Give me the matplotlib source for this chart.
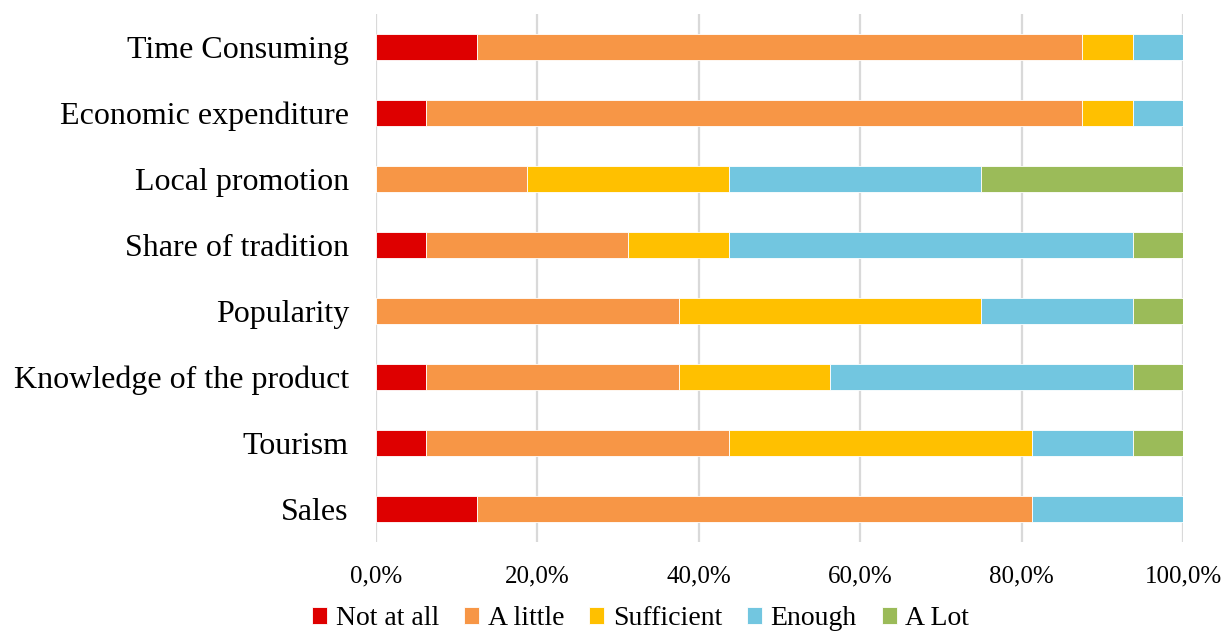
import numpy as np
import matplotlib.pyplot as plt
from matplotlib.ticker import FuncFormatter

plt.rcParams['font.family'] = ['Liberation Serif', 'DejaVu Serif']

categories = ["Time Consuming", "Economic expenditure", "Local promotion",
              "Share of tradition", "Popularity", "Knowledge of the product",
              "Tourism", "Sales"]
levels = ["Not at all", "A little", "Sufficient", "Enough", "A Lot"]

# share of answers per category (%)
not_at_all = [12.5, 6.25, 0.0, 6.25, 0.0, 6.25, 6.25, 12.5]
a_little = [75.0, 81.25, 18.75, 25.0, 37.5, 31.25, 37.5, 68.75]
sufficient = [6.25, 6.25, 25.0, 12.5, 37.5, 18.75, 37.5, 0.0]
enough = [6.25, 6.25, 31.25, 50.0, 18.75, 37.5, 12.5, 18.75]
a_lot = [0.0, 0.0, 25.0, 6.25, 6.25, 6.25, 6.25, 0.0]

colors = ["#DE0000", "#F79646", "#FFC000", "#72C6E0", "#9BBB59"]

fig = plt.figure(figsize=(12.31, 6.31), dpi=100)
ax = fig.add_axes([0.3054, 0.141, 0.6556, 0.837])

y = np.arange(len(categories))[::-1]
left = np.zeros(len(categories))
for name, vals, c in zip(levels, [not_at_all, a_little, sufficient, enough, a_lot], colors):
    vals = np.array(vals) / 100
    ax.barh(y, vals, left=left, height=0.4, color=c, label=name,
            edgecolor="white", linewidth=0.6, zorder=3)
    left += vals

ax.set_xlim(0, 1)
ax.set_ylim(-0.5, len(categories) - 0.5)
ax.set_yticks(y)
ax.set_yticklabels(categories, fontsize=23)
ax.set_xticks(np.arange(0, 1.01, 0.2))
ax.xaxis.set_major_formatter(FuncFormatter(lambda v, p: f"{v*100:.1f}%".replace(".", ",")))
ax.tick_params(axis="x", labelsize=18, length=0, pad=17)
ax.tick_params(axis="y", length=0, pad=19.5)
ax.grid(axis="x", color="#D9D9D9", linewidth=1.6, zorder=0)
for s in ax.spines.values():
    s.set_visible(False)

ax.legend(loc="center", bbox_to_anchor=(0.328, -0.145), ncol=5,
          frameon=False, fontsize=20, handlelength=0.55, handleheight=0.55,
          handletextpad=0.3, columnspacing=0.9, borderaxespad=0)

fig.savefig("out.png", dpi=100)
